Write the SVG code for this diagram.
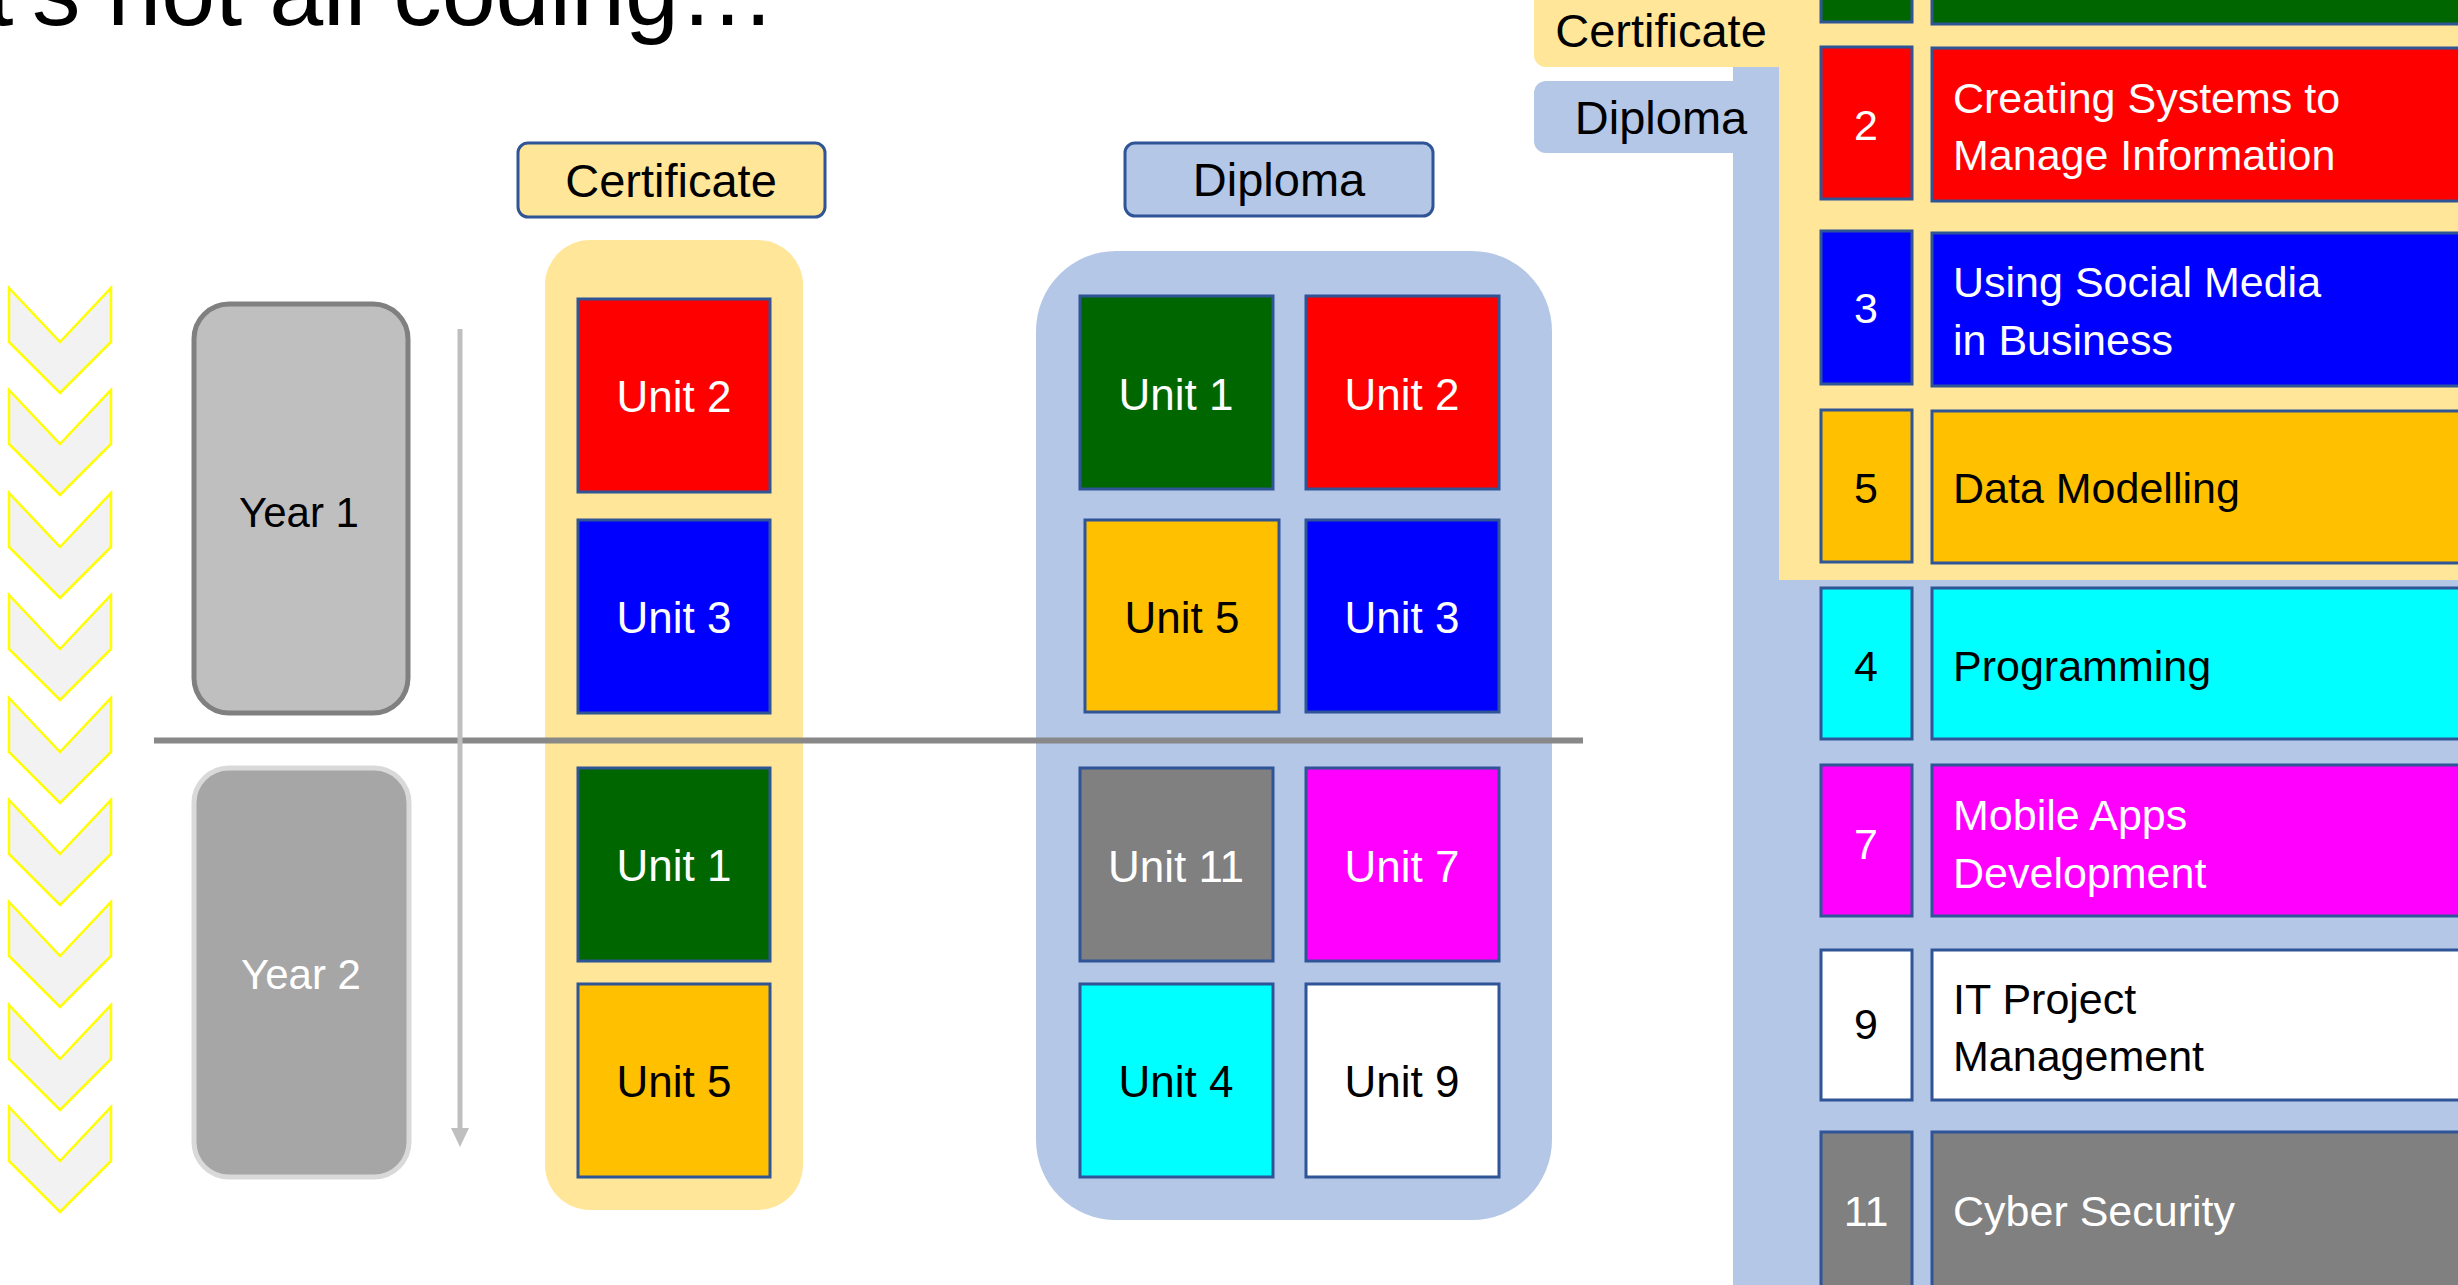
<svg xmlns="http://www.w3.org/2000/svg" width="2458" height="1285" viewBox="0 0 2458 1285">
<style>
text { font-family: "Liberation Sans", Arial, sans-serif; }
.u { stroke:#2f5597; stroke-width:3; }
.red { fill:#ff0000; } .blue { fill:#0000ff; } .green { fill:#006600; } .amber { fill:#ffc000; }
.grey { fill:#808080; } .mag { fill:#ff00ff; } .cyan { fill:#00ffff; } .white { fill:#ffffff; }
.ut { font-size:44px; text-anchor:middle; }
.rt { font-size:43px; }
.rn { font-size:43px; text-anchor:middle; }
.tw { fill:#ffffff; } .tk { fill:#000000; }
.lbl { font-size:47px; text-anchor:middle; fill:#000000; }
.chev { fill:#f2f2f2; stroke:#ffff00; stroke-width:2.5; }
.cert { fill:#ffe699; } .dipl { fill:#b4c7e7; }
</style>
<defs>
<polygon id="chev" points="9,0 60,54 111,0 111,54 60,105 9,54"/>
<marker id="ah" markerUnits="userSpaceOnUse" markerWidth="20" markerHeight="20" refX="0" refY="9" orient="auto">
<polygon points="0,0 19,9 0,18" fill="#bfbfbf"/>
</marker>
</defs>
<rect width="2458" height="1285" fill="#ffffff"/>

<g id="title">
<text x="776" y="25" font-size="97" text-anchor="end" fill="#000000">It's not all coding…</text>
</g>

<g id="chevrons" class="chev">
<use href="#chev" y="288"/>
<use href="#chev" y="390"/>
<use href="#chev" y="493"/>
<use href="#chev" y="595"/>
<use href="#chev" y="698"/>
<use href="#chev" y="800"/>
<use href="#chev" y="902"/>
<use href="#chev" y="1005"/>
<use href="#chev" y="1107"/>
</g>

<g id="year1">
<rect x="194" y="304" width="214" height="409" rx="35" fill="#bfbfbf" stroke="#808080" stroke-width="5"/>
<text x="299" y="527" font-size="42" text-anchor="middle" fill="#000000">Year 1</text>
</g>
<g id="year2">
<rect x="194" y="768" width="215" height="409" rx="35" fill="#a6a6a6" stroke="#d9d9d9" stroke-width="5"/>
<text x="301" y="989" font-size="42" text-anchor="middle" fill="#ffffff">Year 2</text>
</g>

<g id="certificate-panel">
<rect class="cert" x="545" y="240" width="258" height="970" rx="45"/>
</g>
<g id="diploma-panel">
<rect class="dipl" x="1036" y="251" width="516" height="969" rx="80"/>
</g>

<g id="certificate-label">
<rect x="518" y="143" width="307" height="74" rx="10" fill="#ffe699" stroke="#2f5597" stroke-width="3"/>
<text class="lbl" x="671" y="197">Certificate</text>
</g>
<g id="diploma-label">
<rect x="1125" y="143" width="308" height="73" rx="10" fill="#b4c7e7" stroke="#2f5597" stroke-width="3"/>
<text class="lbl" x="1279" y="196" font-size="45">Diploma</text>
</g>

<g id="cert-unit2"><rect class="u red" x="578" y="299" width="192" height="193"/><text class="ut tw" x="674" y="412">Unit 2</text></g>
<g id="cert-unit3"><rect class="u blue" x="578" y="520" width="192" height="193"/><text class="ut tw" x="674" y="633">Unit 3</text></g>
<g id="cert-unit1"><rect class="u green" x="578" y="768" width="192" height="193"/><text class="ut tw" x="674" y="881">Unit 1</text></g>
<g id="cert-unit5"><rect class="u amber" x="578" y="984" width="192" height="193"/><text class="ut tk" x="674" y="1097">Unit 5</text></g>

<g id="dip-unit1"><rect class="u green" x="1080" y="296" width="193" height="193"/><text class="ut tw" x="1176" y="410">Unit 1</text></g>
<g id="dip-unit2"><rect class="u red" x="1306" y="296" width="193" height="193"/><text class="ut tw" x="1402" y="410">Unit 2</text></g>
<g id="dip-unit5"><rect class="u amber" x="1085" y="520" width="194" height="192"/><text class="ut tk" x="1182" y="633">Unit 5</text></g>
<g id="dip-unit3"><rect class="u blue" x="1306" y="520" width="193" height="192"/><text class="ut tw" x="1402" y="633">Unit 3</text></g>
<g id="dip-unit11"><rect class="u grey" x="1080" y="768" width="193" height="193"/><text class="ut tw" x="1176" y="882">Unit 11</text></g>
<g id="dip-unit7"><rect class="u mag" x="1306" y="768" width="193" height="193"/><text class="ut tw" x="1402" y="882">Unit 7</text></g>
<g id="dip-unit4"><rect class="u cyan" x="1080" y="984" width="193" height="193"/><text class="ut tk" x="1176" y="1097">Unit 4</text></g>
<g id="dip-unit9"><rect class="u white" x="1306" y="984" width="193" height="193"/><text class="ut tk" x="1402" y="1097">Unit 9</text></g>

<g id="divider">
<line x1="154" y1="740.5" x2="1583" y2="740.5" stroke="#888888" stroke-width="6"/>
</g>

<g id="connectors">
<line x1="460" y1="329" x2="460" y2="1128" stroke="#bfbfbf" stroke-width="5" marker-end="url(#ah)"/>
</g>

<g id="right-panel-bg">
<rect class="dipl" x="1733" y="67" width="740" height="1230"/>
<rect class="dipl" x="1534" y="81" width="230" height="72" rx="12"/>
<rect class="cert" x="1779" y="-20" width="700" height="600"/>
<rect class="cert" x="1534" y="-30" width="260" height="97" rx="12"/>
</g>
<g id="right-certificate-tab"><text class="lbl" x="1661" y="47">Certificate</text></g>
<g id="right-diploma-tab"><text class="lbl" x="1661" y="134" font-size="45">Diploma</text></g>

<g id="row-unit1"><rect class="u green" x="1821" y="-140" width="91" height="162"/><rect class="u green" x="1932" y="-140" width="560" height="164"/></g>
<g id="row-unit2"><rect class="u red" x="1821" y="47" width="91" height="152"/><rect class="u red" x="1932" y="48" width="560" height="153"/>
<text class="rn tw" x="1866" y="140">2</text><text class="rt tw" x="1953" y="113">Creating Systems to</text><text class="rt tw" x="1953" y="170">Manage Information</text></g>
<g id="row-unit3"><rect class="u blue" x="1821" y="231" width="91" height="153"/><rect class="u blue" x="1932" y="233" width="560" height="153"/>
<text class="rn tw" x="1866" y="323">3</text><text class="rt tw" x="1953" y="297">Using Social Media</text><text class="rt tw" x="1953" y="355">in Business</text></g>
<g id="row-unit5"><rect class="u amber" x="1821" y="410" width="91" height="152"/><rect class="u amber" x="1932" y="411" width="560" height="152"/>
<text class="rn tk" x="1866" y="503">5</text><text class="rt tk" x="1953" y="503">Data Modelling</text></g>
<g id="row-unit4"><rect class="u cyan" x="1821" y="588" width="91" height="151"/><rect class="u cyan" x="1932" y="588" width="560" height="151"/>
<text class="rn tk" x="1866" y="681">4</text><text class="rt tk" x="1953" y="681">Programming</text></g>
<g id="row-unit7"><rect class="u mag" x="1821" y="765" width="91" height="151"/><rect class="u mag" x="1932" y="765" width="560" height="151"/>
<text class="rn tw" x="1866" y="859">7</text><text class="rt tw" x="1953" y="830">Mobile Apps</text><text class="rt tw" x="1953" y="888">Development</text></g>
<g id="row-unit9"><rect class="u white" x="1821" y="950" width="91" height="150"/><rect class="u white" x="1932" y="950" width="560" height="150"/>
<text class="rn tk" x="1866" y="1039">9</text><text class="rt tk" x="1953" y="1014">IT Project</text><text class="rt tk" x="1953" y="1071">Management</text></g>
<g id="row-unit11"><rect class="u grey" x="1821" y="1132" width="91" height="170"/><rect class="u grey" x="1932" y="1132" width="560" height="170"/>
<text class="rn tw" x="1866" y="1226">11</text><text class="rt tw" x="1953" y="1226">Cyber Security</text></g>
</svg>
